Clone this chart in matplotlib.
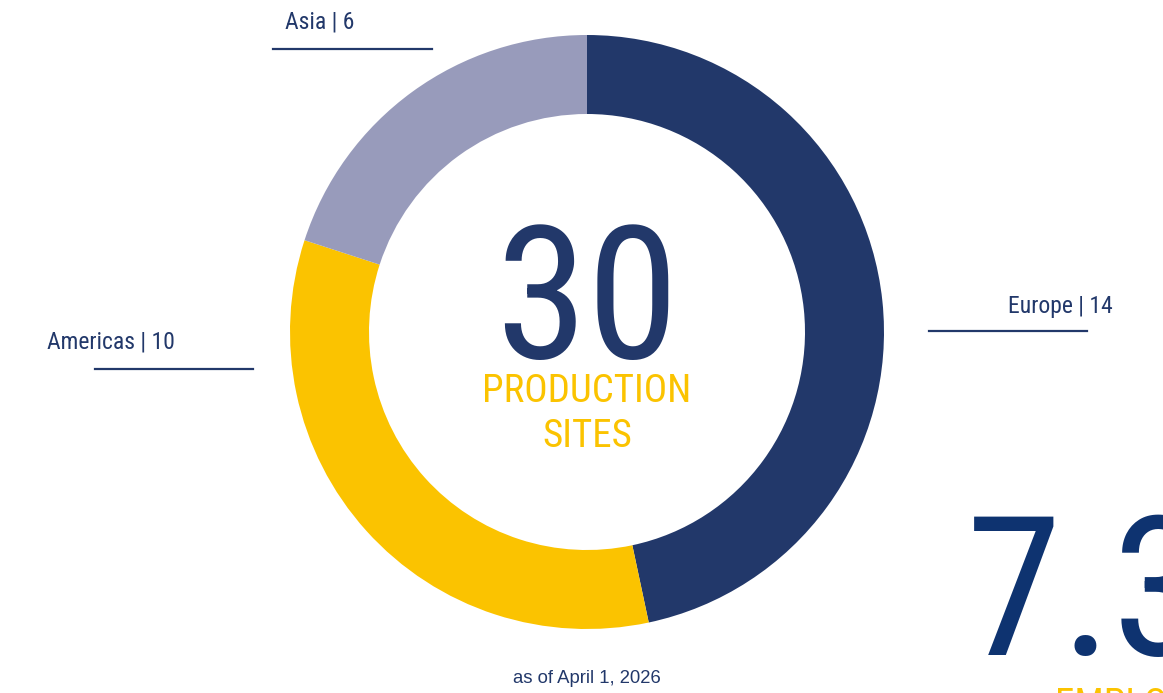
import matplotlib
matplotlib.use('Agg')
import matplotlib.pyplot as plt

# production sites by region, as of April 1, 2026
regions = ['Europe', 'Americas', 'Asia']
sites = [14, 10, 6]
colors = ['#22386A', '#FBC300', '#989BBB']

total = sum(sites)
navy = '#22386A'
W, H = 1163, 693

cond = ['Roboto Condensed', 'Roboto', 'DejaVu Sans']

fig = plt.figure(figsize=(W / 100, H / 100), dpi=100)
ax = fig.add_axes([0, 0, 1, 1])

cx, cy = 587, H - 332
ax.pie(sites, colors=colors, startangle=90, counterclock=False,
       center=(cx, cy), radius=297, frame=True,
       wedgeprops=dict(width=79, linewidth=0))
ax.set_xlim(0, W)
ax.set_ylim(0, H)
ax.set_aspect('equal')
ax.axis('off')

# region labels with underline
lab = {
    'Europe':   dict(tx=1008, ty=313, x0=929, x1=1087, ly=331),
    'Americas': dict(tx=47, ty=349, x0=95, x1=253, ly=369),
    'Asia':     dict(tx=285, ty=28, x0=273, x1=432, ly=49),
}
for r, n in zip(regions, sites):
    p = lab[r]
    ax.text(p['tx'], H - p['ty'], f'{r} | {n}', family=cond, fontsize=17,
            color=navy, ha='left', va='baseline')
    ax.plot([p['x0'], p['x1']], [H - p['ly'], H - p['ly']], color=navy, lw=1.6)

# centre text
ax.text(cx, H - 358, str(total), family=cond, fontsize=134,
        color=navy, ha='center', va='baseline')
ax.text(cx, H - 402, 'PRODUCTION', family=cond, fontsize=28, color='#FBC300',
        ha='center', va='baseline')
ax.text(cx, H - 447, 'SITES', family=cond, fontsize=28, color='#FBC300',
        ha='center', va='baseline')

ax.text(cx, H - 683, 'as of April 1, 2026', family='Liberation Sans', fontsize=13.3,
        color=navy, ha='center', va='baseline')

# neighbouring panel, cut off at the edge
ax.text(966, H - 655, '7.3', family=cond, fontsize=140,
        color='#0E3370', ha='left', va='baseline', clip_on=False)
ax.text(1055, H - 716, 'EMPLOYEES', family=cond, fontsize=28, color='#FBC300',
        ha='left', va='baseline', clip_on=False)

fig.savefig('out.png', dpi=100)
